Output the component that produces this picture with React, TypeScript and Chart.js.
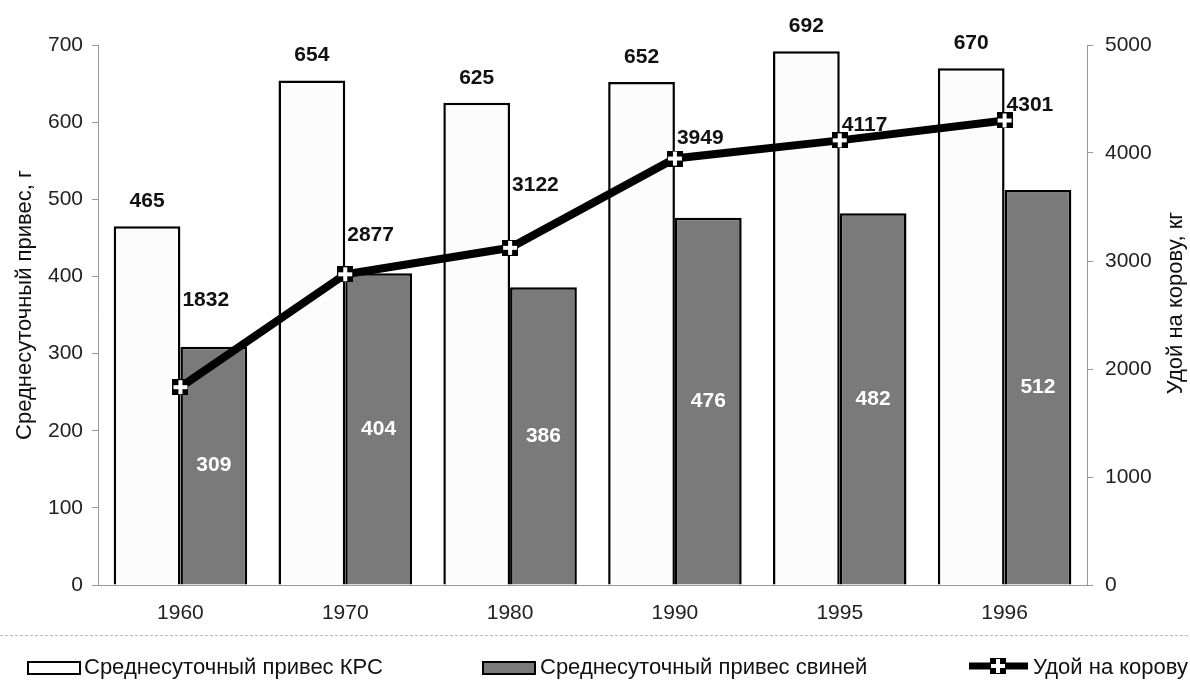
import React, { useEffect, useRef } from "react";
import { Chart, registerables } from "chart.js";

Chart.register(...registerables);

const years = ["1960", "1970", "1980", "1990", "1995", "1996"];
const cattleGain = [465, 654, 625, 652, 692, 670];
const pigGain = [309, 404, 386, 476, 482, 512];
const milkYield = [1832, 2877, 3122, 3949, 4117, 4301];
const leftTicks = [0, 100, 200, 300, 400, 500, 600, 700];
const rightTicks = [0, 1000, 2000, 3000, 4000, 5000];
const leftTitle = "Среднесуточный привес, г";
const rightTitle = "Удой на корову, кг";
// vertical lift (px) of the milk-yield labels above their points
const milkLabelLift = [87, 39, 63, 20, 15, 15];

const FONT = "'Liberation Sans', Arial, sans-serif";
const DARK = "#7a7a7a";

function makeMarker(): HTMLCanvasElement {
  const c = document.createElement("canvas");
  c.width = 16;
  c.height = 16;
  const g = c.getContext("2d")!;
  g.fillStyle = "#000";
  g.fillRect(0, 0, 16, 16);
  g.fillStyle = "#fff";
  g.fillRect(6, 1, 4, 14);
  g.fillRect(1, 6, 14, 4);
  return c;
}

export default function App() {
  const ref = useRef<HTMLCanvasElement | null>(null);

  useEffect(() => {
    const marker = makeMarker();
    const labelsPlugin = {
      id: "valueLabels",
      afterDatasetsDraw(chart: any) {
        const ctx = chart.ctx;
        ctx.save();
        ctx.font = `bold 21px ${FONT}`;
        ctx.textBaseline = "middle";
        const m0 = chart.getDatasetMeta(0);
        m0.data.forEach((el: any, i: number) => {
          ctx.fillStyle = "#111";
          ctx.textAlign = "center";
          ctx.fillText(String(cattleGain[i]), el.x, el.y - 25);
        });
        const m1 = chart.getDatasetMeta(1);
        m1.data.forEach((el: any, i: number) => {
          ctx.fillStyle = "#fff";
          ctx.textAlign = "center";
          ctx.fillText(String(pigGain[i]), el.x, (el.y + el.base) / 2);
        });
        const m2 = chart.getDatasetMeta(2);
        m2.data.forEach((el: any, i: number) => {
          ctx.fillStyle = "#111";
          ctx.textAlign = "left";
          ctx.fillText(String(milkYield[i]), el.x + 2, el.y - milkLabelLift[i]);
        });
        ctx.restore();
      },
      afterDraw(chart: any) {
        const ctx = chart.ctx;
        const area = chart.chartArea;
        ctx.save();
        // axis titles (both read bottom-to-top)
        ctx.font = `22px ${FONT}`;
        ctx.fillStyle = "#111";
        ctx.textAlign = "center";
        ctx.textBaseline = "middle";
        ctx.save();
        ctx.translate(25, 305);
        ctx.rotate(-Math.PI / 2);
        ctx.fillText(leftTitle, 0, 0);
        ctx.restore();
        ctx.save();
        ctx.translate(1176, 303);
        ctx.rotate(-Math.PI / 2);
        ctx.fillText(rightTitle, 0, 0);
        ctx.restore();
        // separator
        ctx.strokeStyle = "#bbb";
        ctx.lineWidth = 1;
        ctx.setLineDash([3, 2]);
        ctx.beginPath();
        ctx.moveTo(0, area.bottom + 50.5);
        ctx.lineTo(1190, area.bottom + 50.5);
        ctx.stroke();
        ctx.setLineDash([]);
        const y = 668;
        ctx.font = `22px ${FONT}`;
        ctx.textBaseline = "middle";
        ctx.textAlign = "left";
        // item 1
        ctx.fillStyle = "#fff";
        ctx.fillRect(28, y - 6, 52, 12);
        ctx.strokeStyle = "#000";
        ctx.lineWidth = 2;
        ctx.strokeRect(28, y - 6, 52, 12);
        ctx.fillStyle = "#111";
        ctx.fillText(chart.data.datasets[0].label, 84, y);
        // item 2
        ctx.fillStyle = DARK;
        ctx.fillRect(483, y - 6, 52, 12);
        ctx.strokeRect(483, y - 6, 52, 12);
        ctx.fillStyle = "#111";
        ctx.fillText(chart.data.datasets[1].label, 540, y);
        // item 3
        ctx.strokeStyle = "#000";
        ctx.lineWidth = 7;
        ctx.beginPath();
        ctx.moveTo(969, y - 2);
        ctx.lineTo(1028, y - 2);
        ctx.stroke();
        ctx.drawImage(marker, 990, y - 10);
        ctx.fillText(chart.data.datasets[2].label, 1033, y);
        ctx.restore();
      },
    };

    const tickFont = { family: FONT, size: 21 };
    const chart = new Chart(ref.current!, {
      type: "bar",
      data: {
        labels: years,
        datasets: [
          {
            label: "Среднесуточный привес КРС",
            data: cattleGain,
            backgroundColor: "#fcfcfc",
            borderColor: "#000",
            borderWidth: 2.5,
            yAxisID: "y",
            order: 2,
            categoryPercentage: 0.81,
            barPercentage: 1.0,
          },
          {
            label: "Среднесуточный привес свиней",
            data: pigGain,
            backgroundColor: DARK,
            borderColor: "#000",
            borderWidth: 2.5,
            yAxisID: "y",
            order: 2,
            categoryPercentage: 0.81,
            barPercentage: 1.0,
          },
          {
            type: "line",
            label: "Удой на корову",
            data: milkYield,
            borderColor: "#000",
            borderWidth: 8,
            pointStyle: marker as any,
            pointRadius: 8,
            yAxisID: "y1",
            order: 0,
          } as any,
        ],
      },
      options: {
        responsive: false,
        animation: false,
        layout: { padding: { top: 45, bottom: 64, left: 0, right: 0 } },
        plugins: { legend: { display: false }, tooltip: { enabled: false } },
        scales: {
          x: {
            grid: { display: false, drawTicks: false },
            border: { color: "#999", dash: [3, 3] },
            ticks: { color: "#222", font: tickFont, padding: 16 },
            afterFit(s: any) {
              s.height = 50;
            },
          },
          y: {
            position: "left",
            min: 0,
            max: 700,
            afterBuildTicks(s: any) {
              s.ticks = leftTicks.map((v) => ({ value: v }));
            },
            grid: { drawOnChartArea: false, tickLength: 6, color: "#999" },
            border: { color: "#999", dash: [2, 3] },
            ticks: { color: "#222", font: tickFont, padding: 9, callback: (v: any) => String(v) },
            afterFit(s: any) {
              s.width = 98;
            },
          },
          y1: {
            position: "right",
            min: 0,
            max: 5000,
            afterBuildTicks(s: any) {
              s.ticks = rightTicks.map((v) => ({ value: v }));
            },
            grid: { drawOnChartArea: false, tickLength: 6, color: "#999" },
            border: { color: "#999", dash: [2, 3] },
            ticks: { color: "#222", font: tickFont, padding: 12, callback: (v: any) => String(v) },
            afterFit(s: any) {
              s.width = 103;
            },
          },
        },
      },
      plugins: [labelsPlugin],
    });
    return () => chart.destroy();
  }, []);

  return (
    <div style={{ position: "absolute", left: 0, top: 0, width: 1190, height: 699, background: "#fff" }}>
      <canvas ref={ref} width={1190} height={699} style={{ display: "block" }} />
    </div>
  );
}
